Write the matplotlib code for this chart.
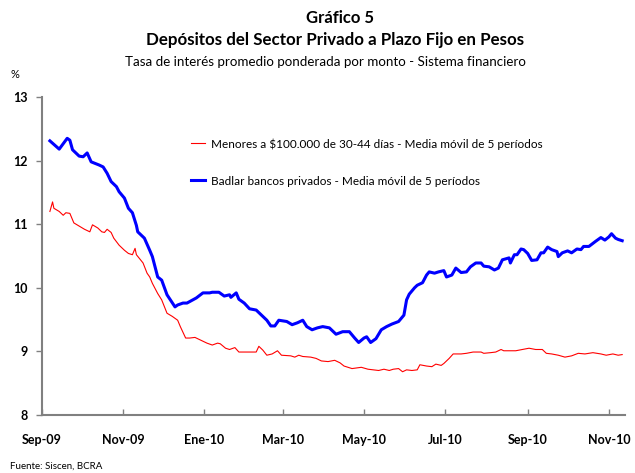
import matplotlib
matplotlib.use("Agg")
import matplotlib.pyplot as plt
import pandas as pd

plt.rcParams['font.family'] = ['Lato', 'DejaVu Sans']

# ---- data ----
blue_dates = ["2009-09-07","2009-09-14","2009-09-20","2009-09-22","2009-09-24","2009-09-29",
    "2009-10-02","2009-10-05","2009-10-08","2009-10-14","2009-10-17","2009-10-20","2009-10-23",
    "2009-10-27","2009-10-29","2009-11-02","2009-11-05","2009-11-08","2009-11-11","2009-11-12",
    "2009-11-17","2009-11-21","2009-11-23","2009-11-27","2009-11-30","2009-12-04","2009-12-10",
    "2009-12-12","2009-12-16","2009-12-19","2009-12-26","2009-12-31","2010-01-05","2010-01-07",
    "2010-01-12","2010-01-16","2010-01-20","2010-01-21","2010-01-25","2010-01-27","2010-01-31",
    "2010-02-04","2010-02-09","2010-02-14","2010-02-17","2010-02-20","2010-02-23","2010-02-26",
    "2010-03-04","2010-03-08","2010-03-12","2010-03-16","2010-03-19","2010-03-23","2010-03-27",
    "2010-03-31","2010-04-05","2010-04-10","2010-04-15","2010-04-20","2010-04-24","2010-04-27",
    "2010-05-01","2010-05-03","2010-05-06","2010-05-10","2010-05-14","2010-05-18","2010-05-22",
    "2010-05-27","2010-05-31","2010-06-02","2010-06-04","2010-06-08","2010-06-10","2010-06-14",
    "2010-06-17","2010-06-19","2010-06-23","2010-06-26","2010-06-30","2010-07-02","2010-07-06",
    "2010-07-09","2010-07-13","2010-07-17","2010-07-20","2010-07-24","2010-07-28","2010-07-30",
    "2010-08-03","2010-08-07","2010-08-10","2010-08-13","2010-08-18","2010-08-19","2010-08-22",
    "2010-08-24","2010-08-27","2010-08-29","2010-09-01","2010-09-04","2010-09-08","2010-09-11",
    "2010-09-13","2010-09-16","2010-09-19","2010-09-23","2010-09-24","2010-09-27","2010-10-01",
    "2010-10-04","2010-10-08","2010-10-11","2010-10-13","2010-10-17","2010-10-22","2010-10-26",
    "2010-10-29","2010-11-01","2010-11-03","2010-11-06","2010-11-08","2010-11-11"]
blue_values = [12.31,12.18,12.35,12.32,12.17,12.07,
    12.06,12.12,11.98,11.93,11.90,11.80,11.67,
    11.59,11.51,11.41,11.25,11.18,10.98,10.88,
    10.78,10.59,10.49,10.17,10.12,9.89,9.70,
    9.73,9.76,9.76,9.84,9.92,9.92,9.93,
    9.93,9.87,9.89,9.85,9.92,9.82,9.76,
    9.67,9.65,9.55,9.49,9.40,9.40,9.49,
    9.47,9.42,9.45,9.49,9.39,9.34,9.37,
    9.39,9.37,9.27,9.31,9.31,9.21,9.14,
    9.21,9.23,9.14,9.20,9.34,9.39,9.43,
    9.47,9.57,9.81,9.90,10.00,10.04,10.08,
    10.20,10.25,10.23,10.25,10.27,10.17,10.20,
    10.31,10.24,10.25,10.33,10.39,10.39,10.34,
    10.33,10.28,10.31,10.44,10.47,10.39,10.52,
    10.52,10.61,10.60,10.54,10.43,10.44,10.55,
    10.55,10.64,10.60,10.57,10.49,10.55,10.58,
    10.55,10.61,10.60,10.65,10.65,10.73,10.79,
    10.75,10.80,10.85,10.78,10.76,10.74]

red_dates = ["2009-09-07","2009-09-09","2009-09-10","2009-09-14","2009-09-17","2009-09-19",
    "2009-09-22","2009-09-23","2009-09-25","2009-09-29","2009-10-03","2009-10-07","2009-10-09",
    "2009-10-13","2009-10-16","2009-10-18","2009-10-20","2009-10-23","2009-10-25","2009-10-29",
    "2009-11-02","2009-11-05","2009-11-08","2009-11-10","2009-11-11","2009-11-16","2009-11-19",
    "2009-11-21","2009-11-23","2009-11-27","2009-11-30","2009-12-04","2009-12-08","2009-12-12",
    "2009-12-14","2009-12-18","2009-12-21","2009-12-25","2009-12-29","2010-01-03","2010-01-07",
    "2010-01-11","2010-01-13","2010-01-17","2010-01-20","2010-01-24","2010-01-27","2010-02-02",
    "2010-02-09","2010-02-11","2010-02-14","2010-02-17","2010-02-21","2010-02-25","2010-02-28",
    "2010-03-07","2010-03-10","2010-03-13","2010-03-16","2010-03-22","2010-03-26","2010-03-30",
    "2010-04-04","2010-04-09","2010-04-13","2010-04-16","2010-04-22","2010-04-29","2010-05-04",
    "2010-05-12","2010-05-16","2010-05-20","2010-05-23","2010-05-27","2010-05-30","2010-06-02",
    "2010-06-06","2010-06-10","2010-06-12","2010-06-17","2010-06-21","2010-06-24","2010-06-28",
    "2010-06-30","2010-07-04","2010-07-07","2010-07-13","2010-07-17","2010-07-22","2010-07-28",
    "2010-07-30","2010-08-04","2010-08-08","2010-08-12","2010-08-14","2010-08-18","2010-08-23",
    "2010-08-28","2010-09-02","2010-09-07","2010-09-12","2010-09-15","2010-09-19","2010-09-24",
    "2010-09-29","2010-10-04","2010-10-09","2010-10-14","2010-10-20","2010-10-26","2010-10-30",
    "2010-11-04","2010-11-08","2010-11-11"]
red_values = [11.20,11.35,11.25,11.20,11.14,11.18,
    11.17,11.12,11.02,10.97,10.92,10.88,10.99,
    10.94,10.88,10.87,10.92,10.87,10.78,10.67,
    10.59,10.54,10.52,10.62,10.52,10.39,10.23,
    10.17,10.07,9.91,9.81,9.60,9.55,9.49,
    9.39,9.21,9.21,9.22,9.18,9.13,9.10,
    9.13,9.12,9.05,9.03,9.06,8.99,8.99,
    8.99,9.08,9.02,8.94,8.96,9.01,8.94,
    8.93,8.91,8.94,8.92,8.91,8.89,8.85,
    8.84,8.86,8.82,8.77,8.73,8.75,8.72,
    8.70,8.72,8.70,8.72,8.73,8.68,8.71,
    8.70,8.71,8.79,8.77,8.76,8.80,8.78,
    8.81,8.89,8.96,8.96,8.97,8.99,8.99,
    8.97,8.98,8.99,9.03,9.01,9.01,9.01,
    9.03,9.05,9.03,9.03,8.97,8.96,8.94,
    8.91,8.93,8.97,8.96,8.98,8.96,8.94,
    8.96,8.94,8.95]

tick_dates = ["2009-09-01","2009-11-01","2010-01-01","2010-03-01","2010-05-01",
              "2010-07-01","2010-09-01","2010-11-01"]
tick_labels = ["Sep-09","Nov-09","Ene-10","Mar-10","May-10","Jul-10","Sep-10","Nov-10"]
y_ticks = [8, 9, 10, 11, 12, 13]

red_label = "Menores a \\$100.000 de 30-44 días - Media móvil de 5 períodos"
blue_label = "Badlar bancos privados - Media móvil de 5 períodos"

# ---- figure ----
fig = plt.figure(figsize=(6.35, 4.73), dpi=100)
ax = fig.add_axes([0.066, 0.1226, 0.918, 0.6724])

ax.plot(pd.to_datetime(red_dates), red_values, color="#FF0000", lw=0.8, label=red_label)
ax.plot(pd.to_datetime(blue_dates), blue_values, color="#0000FF", lw=2.2, label=blue_label)

ax.set_xlim(pd.Timestamp("2009-09-01"), pd.Timestamp("2010-11-13"))
ax.set_ylim(8, 13)
ax.set_yticks(y_ticks)
ax.set_yticklabels([str(v) for v in y_ticks], fontweight="bold", fontsize=9)
ax.set_xticks(pd.to_datetime(tick_dates))
ax.set_xticklabels(tick_labels, fontweight="bold", fontsize=9)

for s in ["top", "right"]:
    ax.spines[s].set_visible(False)
for s in ["left", "bottom"]:
    ax.spines[s].set_color("#808080")
    ax.spines[s].set_linewidth(1.5)
ax.tick_params(axis="x", direction="in", length=4, color="#808080", width=1, pad=14)
ax.tick_params(axis="y", direction="out", length=4, color="#808080", width=1, pad=6)

leg = ax.legend(loc="upper left", bbox_to_anchor=(0.238, 0.904), frameon=False,
                fontsize=8.5, handlelength=1.2, handletextpad=0.5, labelspacing=2.2)

fig.text(0.535, 0.962, "Gráfico 5", ha="center", va="center", fontsize=12, fontweight="bold")
fig.text(0.527, 0.915, "Depósitos del Sector Privado a Plazo Fijo en Pesos", ha="center",
         va="center", fontsize=12.2, fontweight="bold")
fig.text(0.512, 0.868, "Tasa de interés promedio ponderada por monto - Sistema financiero",
         ha="center", va="center", fontsize=9.6)
fig.text(0.016, 0.842, "%", ha="left", va="center", fontsize=8)
fig.text(0.016, 0.015, "Fuente: Siscen, BCRA", ha="left", va="center", fontsize=7)

fig.savefig("out.png", dpi=100)
